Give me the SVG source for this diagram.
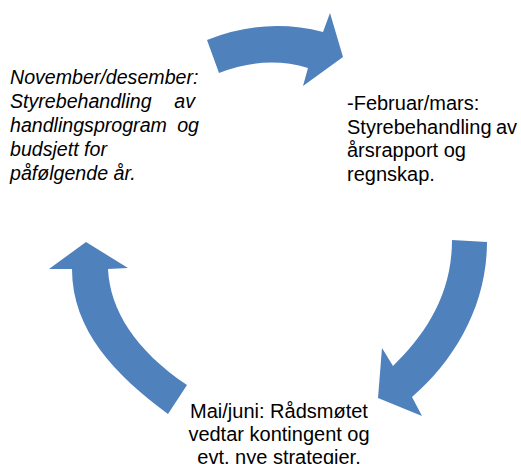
<svg xmlns="http://www.w3.org/2000/svg" width="521" height="464" viewBox="0 0 521 464">
<style>
.arrow{fill:#4F81BD;stroke:none}
.t{font-family:"Liberation Sans",Arial,sans-serif;font-size:20px;fill:#000}
.i{font-style:italic;font-size:19.6px}
</style>
<rect width="521" height="464" fill="#fff"/>
<g id="connectors">
<path class="arrow" d="M207,40 Q265,17 323,32 L330,13 L343,57 L303,86 L308,68 Q265,55 219,73 Z"/>
<path class="arrow" d="M452,240 L487,242 C487,305 455,360 412,397 L422,416 L378,398 L382,348 L393,366 C425,335 452,295 452,240 Z"/>
<path class="arrow" d="M86,242 L128,268 L108,269 C110,310 135,350 187,385 L168,414 C115,375 72,330 72,269 L49,269 Z"/>
</g>
<g id="node-nov">
<text class="t i" x="10" y="83.5">November/desember:</text>
<text class="t i" y="107.5"><tspan x="10">Styrebehandling</tspan><tspan x="195" text-anchor="end">av</tspan></text>
<text class="t i" y="131.5"><tspan x="10">handlingsprogram</tspan><tspan x="199" text-anchor="end">og</tspan></text>
<text class="t i" x="10" y="155.5">budsjett for</text>
<text class="t i" x="10" y="179.5">påfølgende år.</text>
</g>
<g id="node-feb">
<text class="t" x="347" y="110">-Februar/mars:</text>
<text class="t" y="133.5"><tspan x="347">Styrebehandling</tspan><tspan x="517" text-anchor="end">av</tspan></text>
<text class="t" x="347" y="157">årsrapport og</text>
<text class="t" x="347" y="180.5">regnskap.</text>
</g>
<g id="node-mai">
<text class="t" x="279" y="417.5" text-anchor="middle">Mai/juni: Rådsmøtet</text>
<text class="t" x="279" y="441" text-anchor="middle">vedtar kontingent og</text>
<text class="t" x="279" y="463.5" text-anchor="middle">evt. nye strategier.</text>
</g>
</svg>
